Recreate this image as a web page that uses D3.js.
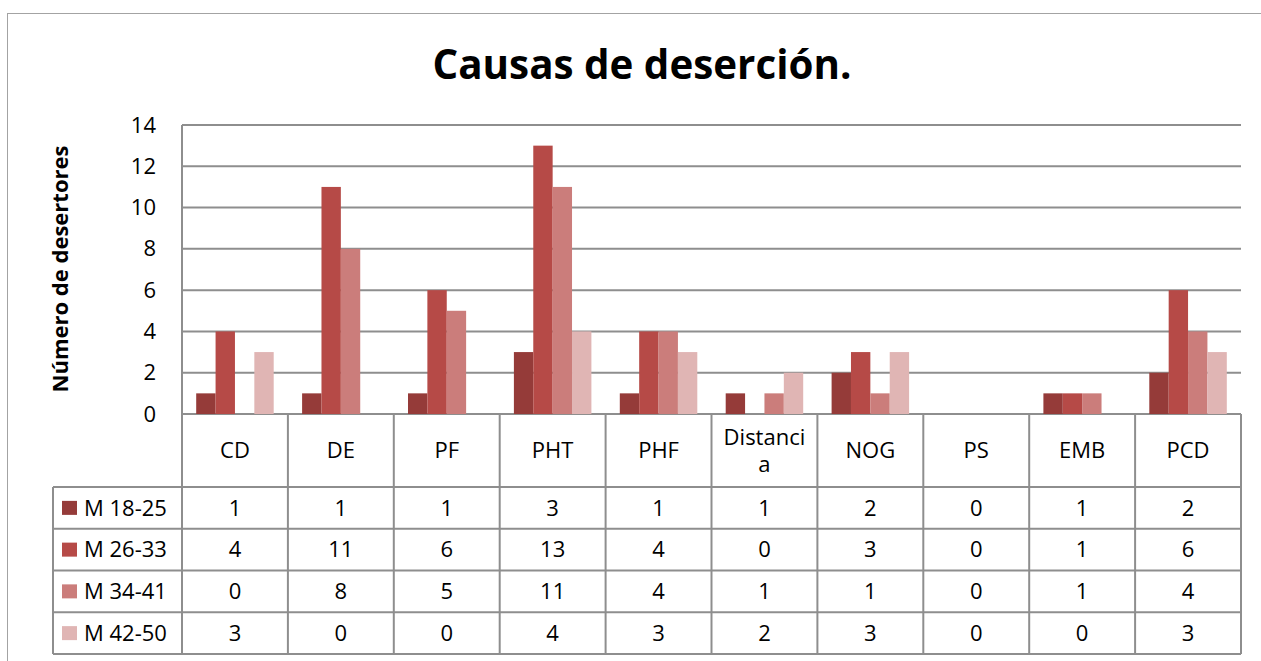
<!DOCTYPE html>
<html>
<head>
<meta charset="utf-8">
<script src="https://cdn.jsdelivr.net/npm/d3@7"></script>
<style>
  body { margin: 0; background: #fff; }
  svg { display: block; }
  text { font-family: "Open Sans", sans-serif; fill: #000; }
</style>
</head>
<body>
<svg id="chart"></svg>
<script>
// data
var categories = ["CD", "DE", "PF", "PHT", "PHF", "Distancia", "NOG", "PS", "EMB", "PCD"];
var seriesNames = ["M 18-25", "M 26-33", "M 34-41", "M 42-50"];
var m1825 = [1, 1, 1, 3, 1, 1, 2, 0, 1, 2];
var m2633 = [4, 11, 6, 13, 4, 0, 3, 0, 1, 6];
var m3441 = [0, 8, 5, 11, 4, 1, 1, 0, 1, 4];
var m4250 = [3, 0, 0, 4, 3, 2, 3, 0, 0, 3];
var yTicks = [0, 2, 4, 6, 8, 10, 12, 14];
var titleText = "Causas de deserción.";
var yLabel = "Número de desertores";

var series = [m1825, m2633, m3441, m4250];
var colors = ["#953b39", "#b64a47", "#cb7d7b", "#e0b5b4"];

var W = 1261, H = 661;
var pLeft = 182, pRight = 1241, pTop = 125, pBottom = 414;
var headBottom = 487, tableBottom = 654, legLeft = 53;
var lineColor = "#8e8e8e";
var fs = 22;

var svg = d3.select("#chart").attr("width", W).attr("height", H);

// chart border
svg.append("rect")
    .attr("x", 7.5).attr("y", 13.5)
    .attr("width", W + 20).attr("height", H + 20)
    .attr("fill", "none").attr("stroke", "#a3a3a3").attr("stroke-width", 1);

var x = d3.scaleBand().domain(categories).range([pLeft, pRight]);
var groupPad = (x.bandwidth() - 77.5) / 2;
var x1 = d3.scaleBand().domain(d3.range(series.length))
    .range([groupPad, x.bandwidth() - groupPad]);
var y = d3.scaleLinear().domain([0, 14]).range([pBottom, pTop]);

// gridlines
svg.append("g").selectAll("line").data(yTicks).join("line")
    .attr("x1", pLeft).attr("x2", pRight)
    .attr("y1", function(d){ return y(d); })
    .attr("y2", function(d){ return y(d); })
    .attr("stroke", lineColor).attr("stroke-width", 2);

// y axis ticks
var yAxis = d3.axisLeft(y).tickValues(yTicks).tickSize(0).tickPadding(26);
var ga = svg.append("g").attr("transform", "translate(" + pLeft + ",0)").call(yAxis);
ga.select(".domain").remove();
ga.selectAll("text")
    .style("font-family", "\"Open Sans\", sans-serif")
    .style("font-size", fs + "px").attr("fill", "#000");

// bars
series.forEach(function(vals, si){
    svg.append("g").selectAll("rect").data(vals).join("rect")
	.attr("x", function(d, i){ return x(categories[i]) + x1(si); })
	.attr("y", function(d){ return y(d); })
	.attr("width", x1.bandwidth())
	.attr("height", function(d){ return y(0) - y(d); })
	.attr("fill", colors[si]);
});

// data table
var rowH = (tableBottom - headBottom) / series.length;
var tg = svg.append("g");

// header row, category names (wrapped by character like the original)
function wrapChars(txt, maxW, size){
    var probe = svg.append("text").style("font-size", size + "px");
    var lines = [], cur = "";
    for (var k = 0; k < txt.length; k++){
	probe.text(cur + txt[k]);
	if (cur && probe.node().getComputedTextLength() > maxW){
	    lines.push(cur); cur = txt[k];
	} else cur += txt[k];
    }
    lines.push(cur);
    probe.remove();
    return lines;
}
categories.forEach(function(c){
    var lines = wrapChars(c, 90, fs);
    var cy = (pBottom + headBottom) / 2;
    var t = tg.append("text")
	.attr("text-anchor", "middle")
	.style("font-size", fs + "px");
    lines.forEach(function(l, li){
	t.append("tspan")
	    .attr("x", x(c) + x.bandwidth() / 2)
	    .attr("y", cy + (li - (lines.length - 1) / 2) * 27)
	    .attr("dy", "0.35em")
	    .text(l);
    });
});

// value rows with legend keys
series.forEach(function(vals, si){
    var ry = headBottom + si * rowH;
    tg.append("rect")
	.attr("x", 62).attr("y", ry + rowH / 2 - 7)
	.attr("width", 15).attr("height", 14)
	.attr("fill", colors[si]);
    tg.append("text")
	.attr("x", 84).attr("y", ry + rowH / 2).attr("dy", "0.35em")
	.style("font-size", fs + "px").text(seriesNames[si]);
    vals.forEach(function(v, i){
	tg.append("text")
	    .attr("x", x(categories[i]) + x.bandwidth() / 2)
	    .attr("y", ry + rowH / 2).attr("dy", "0.35em")
	    .attr("text-anchor", "middle")
	    .style("font-size", fs + "px").text(v);
    });
});

// table lines
var hl = d3.range(series.length + 1).map(function(k){ return headBottom + k * rowH; });
tg.selectAll("line.h").data(hl).join("line")
    .attr("x1", legLeft).attr("x2", pRight)
    .attr("y1", function(d){ return d; }).attr("y2", function(d){ return d; })
    .attr("stroke", lineColor).attr("stroke-width", 2);
var vl = categories.map(function(c){ return x(c) + x.bandwidth(); });
tg.selectAll("line.v").data(vl).join("line")
    .attr("x1", function(d){ return d; }).attr("x2", function(d){ return d; })
    .attr("y1", pBottom).attr("y2", tableBottom)
    .attr("stroke", lineColor).attr("stroke-width", 2);
tg.append("line").attr("x1", pLeft).attr("x2", pLeft).attr("y1", pTop).attr("y2", tableBottom)
    .attr("stroke", lineColor).attr("stroke-width", 2);
tg.append("line").attr("x1", legLeft).attr("x2", legLeft).attr("y1", headBottom).attr("y2", tableBottom)
    .attr("stroke", lineColor).attr("stroke-width", 2);

// y label
svg.append("text")
    .attr("transform", "translate(68,269) rotate(-90)")
    .attr("text-anchor", "middle")
    .style("font-size", "22px").style("font-weight", "bold")
    .text(yLabel);

// title, sized to the width it takes in the original
var title = svg.append("text")
    .attr("x", 642).attr("y", 79)
    .attr("text-anchor", "middle")
    .style("font-weight", "bold").style("font-size", "40px")
    .text(titleText);
var tw = title.node().getComputedTextLength();
title.style("font-size", (40 * 419 / tw) + "px");
</script>
</body>
</html>
